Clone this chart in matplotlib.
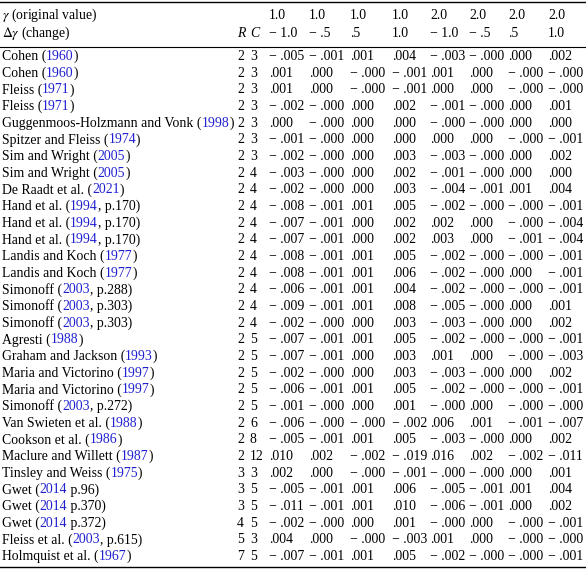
import matplotlib.pyplot as plt

# table data
names = [
    ("Cohen (", "1960", ")"), ("Cohen (", "1960", ")"),
    ("Fleiss (", "1971", ")"), ("Fleiss (", "1971", ")"),
    ("Guggenmoos-Holzmann and Vonk (", "1998", ")"),
    ("Spitzer and Fleiss (", "1974", ")"),
    ("Sim and Wright (", "2005", ")"), ("Sim and Wright (", "2005", ")"),
    ("De Raadt et al. (", "2021", ")"),
    ("Hand et al. (", "1994", ", p.170)"), ("Hand et al. (", "1994", ", p.170)"),
    ("Hand et al. (", "1994", ", p.170)"),
    ("Landis and Koch (", "1977", ")"), ("Landis and Koch (", "1977", ")"),
    ("Simonoff (", "2003", ", p.288)"), ("Simonoff (", "2003", ", p.303)"),
    ("Simonoff (", "2003", ", p.303)"),
    ("Agresti (", "1988", ")"), ("Graham and Jackson (", "1993", ")"),
    ("Maria and Victorino (", "1997", ")"), ("Maria and Victorino (", "1997", ")"),
    ("Simonoff (", "2003", ", p.272)"), ("Van Swieten et al. (", "1988", ")"),
    ("Cookson et al. (", "1986", ")"), ("Maclure and Willett (", "1987", ")"),
    ("Tinsley and Weiss (", "1975", ")"),
    ("Gwet (", "2014", " p.96)"), ("Gwet (", "2014", " p.370)"), ("Gwet (", "2014", " p.372)"),
    ("Fleiss et al. (", "2003", ", p.615)"), ("Holmquist et al. (", "1967", ")"),
]
R = [2,2,2,2,2,2,2,2,2,2,2,2,2,2,2,2,2,2,2,2,2,2,2,2,2,3,3,3,4,5,7]
C = [3,3,3,3,3,3,3,4,4,4,4,4,4,4,4,4,4,5,5,5,5,5,6,8,12,3,5,5,5,3,5]
vals = [
    "-.005 -.001 .001 .004 -.003 -.000 .000 .002",
    ".001 .000 -.000 -.001 .001 .000 -.000 -.000",
    ".001 .000 -.000 -.001 .000 .000 -.000 -.000",
    "-.002 -.000 .000 .002 -.001 -.000 .000 .001",
    ".000 -.000 .000 .000 -.000 -.000 .000 .000",
    "-.001 -.000 .000 .000 .000 .000 -.000 -.001",
    "-.002 -.000 .000 .003 -.003 -.000 .000 .002",
    "-.003 -.000 .000 .002 -.001 -.000 .000 .000",
    "-.002 -.000 .000 .003 -.004 -.001 .001 .004",
    "-.008 -.001 .001 .005 -.002 -.000 -.000 -.001",
    "-.007 -.001 .000 .002 .002 .000 -.000 -.004",
    "-.007 -.001 .000 .002 .003 .000 -.001 -.004",
    "-.008 -.001 .001 .005 -.002 -.000 -.000 -.001",
    "-.008 -.001 .001 .006 -.002 -.000 .000 -.001",
    "-.006 -.001 .001 .004 -.002 -.000 -.000 -.001",
    "-.009 -.001 .001 .008 -.005 -.000 .000 .001",
    "-.002 -.000 .000 .003 -.003 -.000 .000 .002",
    "-.007 -.001 .001 .005 -.002 -.000 -.000 -.001",
    "-.007 -.001 .000 .003 .001 .000 -.000 -.003",
    "-.002 -.000 .000 .003 -.003 -.000 .000 .002",
    "-.006 -.001 .001 .005 -.002 -.000 -.000 -.001",
    "-.001 -.000 .000 .001 -.000 .000 -.000 -.000",
    "-.006 -.000 -.000 -.002 .006 .001 -.001 -.007",
    "-.005 -.001 .001 .005 -.003 -.000 .000 .002",
    ".010 .002 -.002 -.019 .016 .002 -.002 -.011",
    ".002 .000 -.000 -.001 -.000 -.000 .000 .001",
    "-.005 -.001 .001 .006 -.005 -.001 .001 .004",
    "-.011 -.001 .001 .010 -.006 -.001 .000 .002",
    "-.002 -.000 .000 .001 -.000 .000 -.000 -.001",
    ".004 .000 -.000 -.003 .001 .000 -.000 -.000",
    "-.007 -.001 .001 .005 -.002 -.000 -.000 -.001",
]
gamma = ["1.0", "1.0", "1.0", "1.0", "2.0", "2.0", "2.0", "2.0"]
dgamma = ["-1.0", "-.5", ".5", "1.0", "-1.0", "-.5", ".5", "1.0"]

plt.rcParams['font.family'] = ['Liberation Serif', 'DejaVu Serif']
plt.rcParams['mathtext.fontset'] = 'stix'
fs = 9.9
W, H = 586, 572
fig = plt.figure(figsize=(W/100, H/100), dpi=100)
ax = fig.add_axes([0, 0, 1, 1])
ax.set_xlim(0, W)
ax.set_ylim(H, 0)
ax.axis('off')

colx = [269, 309, 350, 392, 430, 469, 508, 548]
base = 4  # baseline below row centre

def fmt(s):
    return s.replace("-", "\u2212 ") if s.startswith("-") else s

ax.plot([0, W], [1.5, 1.5], color='black', lw=1)
ax.plot([0, W], [46.5, 46.5], color='black', lw=0.8)
ax.plot([0, W], [567, 567], color='black', lw=1)

ax.text(2, 15 + base, "$\\gamma$ (original value)", fontsize=fs, va='baseline')
ax.text(2, 33 + base, "$\\Delta\\gamma$ (change)", fontsize=fs, va='baseline')
ax.text(237, 33 + base, "R", fontsize=fs, va='baseline', style='italic')
ax.text(250, 33 + base, "C", fontsize=fs, va='baseline', style='italic')
for x, g, d in zip(colx, gamma, dgamma):
    ax.text(x, 15 + base, g, fontsize=fs, va='baseline')
    ax.text(x, 33 + base, fmt(d), fontsize=fs, va='baseline')

fig.canvas.draw()
rend = fig.canvas.get_renderer()
y0, dy = 56, 500 / 30
for i, (a, b, c) in enumerate(names):
    y = y0 + i * dy + base
    x = 2
    for part, col in ((a, 'black'), (b, '#2020d0'), (c, 'black')):
        t = ax.text(x, y, part, fontsize=fs, va='baseline', color=col)
        bb = t.get_window_extent(rend)
        x += bb.width
    ax.text(237, y, str(R[i]), fontsize=fs, va='baseline')
    ax.text(250, y, str(C[i]), fontsize=fs, va='baseline')
    for x, v in zip(colx, vals[i].split()):
        ax.text(x, y, fmt(v), fontsize=fs, va='baseline')

fig.savefig('out.png', dpi=100)
